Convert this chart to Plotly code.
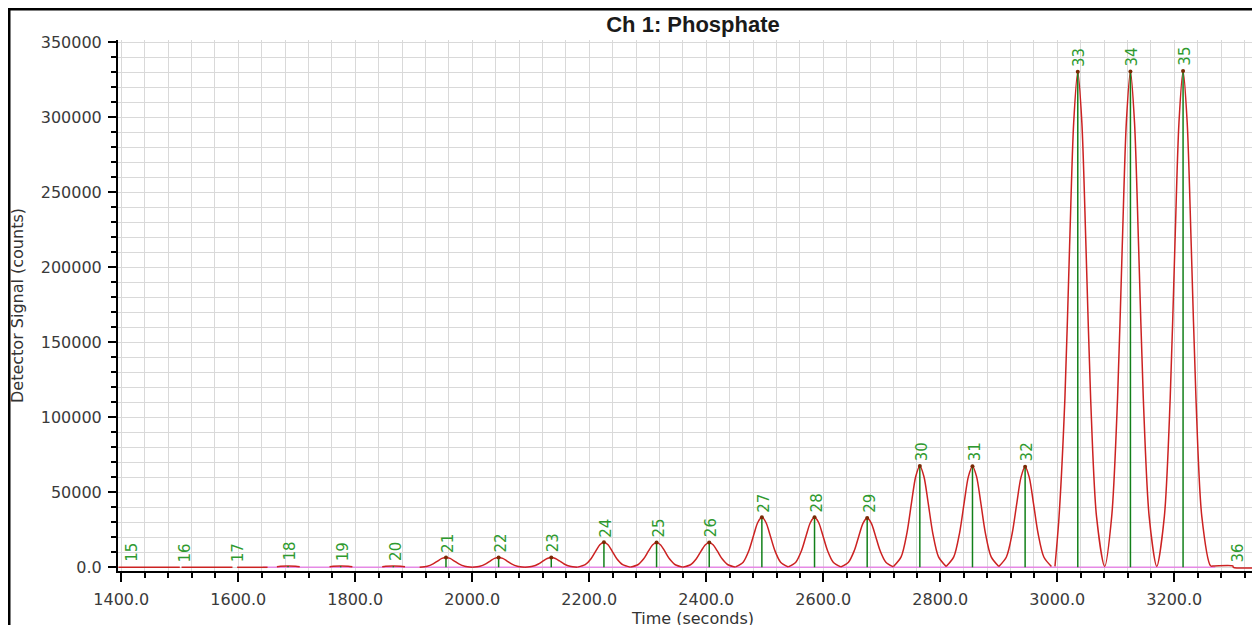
import plotly.graph_objects as go

# ---------------- data ----------------
peak_numbers = [15, 16, 17, 18, 19, 20, 21, 22, 23, 24, 25, 26, 27, 28, 29, 30, 31, 32, 33, 34, 35, 36]
peak_times = [1415, 1505, 1595, 1685, 1775, 1865, 1955, 2045, 2135, 2225, 2315, 2405,
              2495, 2585, 2675, 2765, 2855, 2945, 3035, 3125, 3215, 3305]
peak_heights = [0, 0, 0, 800, 800, 800, 6600, 6600, 6500, 16700, 16600, 16600,
                33300, 33300, 32800, 67500, 67400, 67000, 330300, 330500, 330800, 0]

# detector trace (None = gap between integration windows)
signal_time = [
    1395, 1500, None, 1503, 1590, None, 1598, 1650, None,
    1666, 1672, 1685, 1698, 1705, None,
    1756, 1762, 1775, 1788, 1795, None,
    1846, 1852, 1865, 1878, 1885, None,
    1910, 1923, 1933, 1941, 1948, 1955, 1962, 1969, 1977, 1987, 2000, None,
    2000, 2013, 2023, 2031, 2038, 2045, 2052, 2059, 2067, 2077, 2090, None,
    2090, 2103, 2113, 2121, 2128, 2135, 2142, 2149, 2157, 2167, 2180, None,
    2180, 2193, 2203, 2211, 2218, 2225, 2232, 2239, 2247, 2257, 2270, None,
    2270, 2283, 2293, 2301, 2308, 2315, 2322, 2329, 2337, 2347, 2360, None,
    2360, 2373, 2383, 2391, 2398, 2405, 2412, 2419, 2427, 2437, 2450, None,
    2450, 2463, 2473, 2481, 2488, 2495, 2502, 2509, 2517, 2527, 2540, None,
    2540, 2553, 2563, 2571, 2578, 2585, 2592, 2599, 2607, 2617, 2630, None,
    2630, 2643, 2653, 2661, 2668, 2675, 2682, 2689, 2697, 2707, 2720, None,
    2720, 2733, 2743, 2751, 2758, 2765, 2772, 2779, 2787, 2797, 2810, None,
    2810, 2823, 2833, 2841, 2848, 2855, 2862, 2869, 2877, 2887, 2900, None,
    2900, 2913, 2923, 2931, 2938, 2945, 2952, 2959, 2967, 2977, 2990, None,
    2996, 3003, 3013, 3021, 3028, 3035, 3042, 3049, 3057, 3067, 3081,
    3093, 3103, 3111, 3118, 3125, 3132, 3139, 3147, 3157, 3170,
    3183, 3193, 3201, 3208, 3215, 3222, 3229, 3237, 3247, 3262, 3268, 3300, 3301, 3370,
]
signal_value = [
    0, 0, None, 0, 0, None, 0, 0, None,
    300, 700, 800, 700, 300, None,
    300, 700, 800, 700, 300, None,
    300, 700, 800, 700, 300, None,
    50, 680, 2250, 4270, 5920, 6600, 5920, 4270, 2250, 680, 50, None,
    50, 680, 2250, 4270, 5920, 6600, 5920, 4270, 2250, 680, 50, None,
    50, 670, 2220, 4210, 5830, 6500, 5830, 4210, 2220, 670, 50, None,
    120, 1720, 5690, 10800, 14980, 16700, 14980, 10800, 5690, 1720, 120, None,
    120, 1700, 5660, 10740, 14890, 16600, 14890, 10740, 5660, 1700, 120, None,
    120, 1700, 5660, 10740, 14890, 16600, 14890, 10740, 5660, 1700, 120, None,
    250, 3420, 11360, 21550, 29870, 33300, 29870, 21550, 11360, 3420, 250, None,
    250, 3420, 11360, 21550, 29870, 33300, 29870, 21550, 11360, 3420, 250, None,
    250, 3370, 11180, 21220, 29420, 32800, 29420, 21220, 11180, 3370, 250, None,
    500, 6930, 23020, 43670, 60550, 67500, 60550, 43670, 23020, 6930, 500, None,
    500, 6920, 22980, 43610, 60460, 67400, 60460, 43610, 22980, 6920, 500, None,
    500, 6880, 22850, 43350, 60100, 67000, 60100, 43350, 22850, 6880, 500, None,
    600, 33900, 112600, 213700, 296300, 330300, 296300, 213700, 112600, 33900, 600,
    33940, 112700, 213830, 296460, 330500, 296460, 213830, 112700, 33940, 600,
    33970, 112800, 214030, 296730, 330800, 296730, 214030, 112800, 33970, 1000, 900, 900, 0, 0,
]

baseline_time = [1642, 3270]
baseline_value = [0, 0]

x_tick_step = 200
y_tick_vals = [0, 50000, 100000, 150000, 200000, 250000, 300000, 350000]
y_tick_text = ["0.0", "50000", "100000", "150000", "200000", "250000", "300000", "350000"]

title_text = "Ch 1: Phosphate"
x_title = "Time (seconds)"
y_title = "Detector Signal (counts)"

# ---------------- layout constants ----------------
# the page body adds an 8px offset, so figure coords = screen coords - 8
W, H = 1260, 625
ML, MR, MT, MB = 110, 0, 32, 62
RED = "#cc2222"
GREEN_LINE = "#12801a"
GREEN_TEXT = "#2f9a2f"
PINK = "#e68ae6"
GRID = "#d9d9d9"
TICKFONT = dict(family="DejaVu Sans", size=16, color="#3a3a3a")
PX_PER_S = 0.585

fig = go.Figure()

# baseline
fig.add_trace(go.Scatter(x=baseline_time, y=baseline_value, mode="lines",
                         line=dict(color=PINK, width=1.5), hoverinfo="skip", showlegend=False))

# detector signal
fig.add_trace(go.Scatter(x=signal_time, y=signal_value, mode="lines",
                         line=dict(color=RED, width=1.5, shape="spline", smoothing=0.8),
                         connectgaps=False, showlegend=False))

# peak markers (vertical green lines from baseline to apex)
drop_x, drop_y = [], []
for t, h in zip(peak_times, peak_heights):
    if h > 0:
        drop_x += [t, t, None]
        drop_y += [0, h, None]
fig.add_trace(go.Scatter(x=drop_x, y=drop_y, mode="lines",
                         line=dict(color=GREEN_LINE, width=1.5), hoverinfo="skip", showlegend=False))

# apex dots
apex_x = [t for t, h in zip(peak_times, peak_heights) if h > 5000]
apex_y = [h for h in peak_heights if h > 5000]
fig.add_trace(go.Scatter(x=apex_x, y=apex_y, mode="markers",
                         marker=dict(color="#7a2a05", size=4), hoverinfo="skip", showlegend=False))

# peak labels
for n, t, h in zip(peak_numbers, peak_times, peak_heights):
    fig.add_annotation(x=t, y=h, text=str(n), showarrow=False, textangle=-90,
                       xanchor="center", yanchor="bottom", xshift=2, yshift=3,
                       font=dict(family="DejaVu Sans", size=15, color=GREEN_TEXT))

x_left = 1400 - 3.3 / PX_PER_S
x_right = x_left + (W - ML - MR) / PX_PER_S

fig.update_layout(
    width=W, height=H,
    margin=dict(l=ML, r=MR, t=MT, b=MB, pad=0),
    paper_bgcolor="white", plot_bgcolor="white",
    showlegend=False,
    title=dict(text="<b>" + title_text + "</b>", x=685 / W, xanchor="center",
               y=1 - 16 / H, yanchor="middle",
               font=dict(family="Liberation Sans", size=22, color="#1a1a1a")),
    xaxis=dict(
        range=[x_left, x_right], tick0=1400, dtick=x_tick_step, tickformat=".1f",
        showline=True, linecolor="black", linewidth=2,
        ticks="outside", ticklen=9, tickwidth=2, tickcolor="black",
        showgrid=True, gridcolor=GRID, gridwidth=1, zeroline=False,
        minor=dict(dtick=40, tick0=1400, ticks="outside", ticklen=5, tickwidth=1.5,
                   tickcolor="black", showgrid=True, gridcolor=GRID, gridwidth=1),
        tickfont=TICKFONT, ticklabelstandoff=4, automargin=False,
        title=dict(text=x_title, standoff=2,
                   font=dict(family="DejaVu Sans", size=16, color="#333333")),
    ),
    yaxis=dict(
        range=[-2470, 351530], tickmode="array", tickvals=y_tick_vals, ticktext=y_tick_text,
        showline=True, linecolor="black", linewidth=2,
        ticks="outside", ticklen=8, tickwidth=2, tickcolor="black",
        showgrid=True, gridcolor=GRID, gridwidth=1, zeroline=False,
        minor=dict(tickmode="linear", dtick=10000, tick0=0, ticks="outside", ticklen=5,
                   tickwidth=1.5, tickcolor="black", showgrid=True, gridcolor=GRID, gridwidth=1),
        tickfont=TICKFONT, ticklabelstandoff=3, automargin=False,
        title=dict(text=y_title, standoff=13,
                   font=dict(family="DejaVu Sans", size=16, color="#333333")),
    ),
)

# outer frame of the chart window (top and left edges visible)
pw = W - ML - MR
ph = H - MT - MB
fig.add_shape(type="rect", xref="paper", yref="paper",
              x0=(1 - ML) / pw, x1=(W + 20 - ML) / pw,
              y0=-(80) / ph, y1=(H - MB - 1) / ph,
              line=dict(color="black", width=3), fillcolor="rgba(0,0,0,0)", layer="above")

fig.write_html("out.html")
